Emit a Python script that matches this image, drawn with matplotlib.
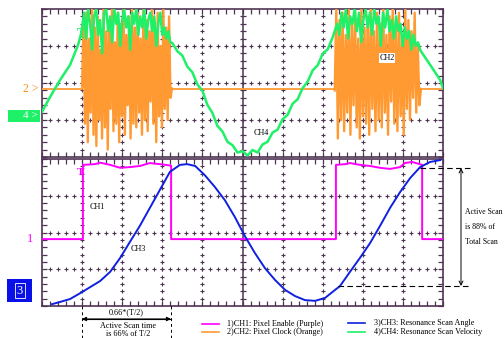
import numpy as np
import matplotlib
matplotlib.use('Agg')
import matplotlib.pyplot as plt
from matplotlib.lines import Line2D
from matplotlib.patches import Rectangle

# ---- data (screen divisions: x 0..10, y 0..4 per panel) ----
# CH4 resonance scan velocity (top panel, green)
ch4_left_x = [0.0, 0.2, 0.45, 0.7, 0.9, 1.0]
ch4_left_y = [1.22, 1.62, 2.08, 2.49, 3.03, 3.43]
ch4_burst1 = [3.5, 3.9, 3.2, 4.0, 3.6, 2.9, 3.8, 4.0, 3.3, 3.7, 2.8, 3.9, 4.0, 3.4, 3.8,
              3.1, 4.0, 3.6, 3.9, 3.0, 3.7, 4.0, 3.5, 3.8, 2.9, 3.9, 3.6, 4.0, 3.3, 3.8,
              3.5, 4.0, 3.2, 3.7, 3.9, 3.4, 3.8, 3.0, 3.6, 3.9, 3.3, 3.5, 3.2, 3.4, 3.1]
ch4_mid = [3.08, 2.86, 2.74, 2.44, 2.29, 1.96, 1.79, 1.41, 1.19, 0.84, 0.69, 0.41, 0.32,
           0.12, 0.16, 0.04, 0.19, 0.12, 0.34, 0.41, 0.66, 0.74, 1.02, 1.14, 1.44, 1.56,
           1.86, 2.04, 2.34, 2.48, 2.79, 2.91, 3.24]
ch4_burst2 = [3.6, 3.3, 3.9, 3.5, 4.0, 3.2, 3.8, 3.6, 4.0, 3.4, 3.9, 3.1, 3.7, 4.0, 3.5,
              3.9, 3.3, 4.0, 3.6, 3.8, 3.0, 3.9, 3.5, 4.0, 3.4, 3.7, 3.2, 3.8, 3.4, 3.6,
              3.0, 3.5, 3.2, 3.4, 2.9, 3.3, 3.0, 3.1, 2.9]
ch4_right_x = [9.43, 9.68, 9.93, 10.0]
ch4_right_y = [2.89, 2.49, 2.08, 1.86]

# CH2 pixel clock (top panel, orange)
ch2_base = 1.83
ch2_burst1 = [1.9, 3.6, 0.9, 3.9, 0.4, 3.2, 1.2, 4.0, 0.6, 3.5, 0.3, 3.8, 1.0, 2.9, 0.5, 4.0,
              0.8, 3.4, 0.2, 3.7, 1.3, 4.0, 0.7, 3.1, 0.9, 3.9, 0.4, 3.6, 1.1, 4.0, 0.6, 3.3,
              1.4, 3.8, 0.5, 4.0, 0.9, 3.5, 0.8, 3.9, 1.2, 3.2, 0.6, 4.0, 1.0, 3.7, 0.7, 3.4,
              1.5, 4.0, 0.9, 3.6, 0.4, 3.9, 1.1, 3.0, 0.8, 4.0, 1.3, 3.5, 1.0, 3.8, 1.6, 1.85]
ch2_burst2 = [1.8, 4.0, 0.5, 3.7, 1.0, 3.9, 0.7, 3.3, 1.2, 4.0, 0.6, 3.6, 1.4, 3.9, 0.8, 3.2,
              0.5, 4.0, 1.1, 3.5, 0.9, 3.8, 0.6, 4.0, 1.3, 3.4, 0.7, 3.9, 1.0, 3.6, 0.8, 4.0,
              1.2, 3.3, 0.6, 3.8, 1.5, 4.0, 0.9, 3.5, 0.7, 3.9, 1.1, 3.2, 0.6, 4.0, 1.3, 3.7,
              1.0, 3.4, 1.6, 3.9, 1.2, 3.0, 1.4, 1.84]

# CH1 pixel enable (bottom panel, magenta)
ch1_low = 1.82
ch1_p1_x = [1.02, 1.32, 1.45, 1.70, 1.95, 2.19, 2.44, 2.69, 2.94, 3.22]
ch1_p1_y = [3.84, 3.86, 3.90, 3.84, 3.76, 3.78, 3.81, 3.89, 3.86, 3.82]
ch1_p2_x = [7.33, 7.56, 7.68, 7.93, 8.18, 8.43, 8.68, 8.93, 9.05, 9.23, 9.48]
ch1_p2_y = [3.84, 3.86, 3.89, 3.84, 3.81, 3.76, 3.73, 3.78, 3.89, 3.92, 3.84]

# CH3 resonance scan angle (bottom panel, blue)
ch3_x = [0.25, 0.45, 0.70, 1.00, 1.45, 1.70, 1.95, 2.19, 2.44, 2.69, 2.94, 3.19, 3.44, 3.62,
         3.82, 4.06, 4.31, 4.56, 4.81, 5.06, 5.31, 5.56, 5.81, 6.06, 6.31, 6.56, 6.81, 7.06,
         7.31, 7.43, 7.68, 7.93, 8.18, 8.43, 8.68, 8.93, 9.18, 9.43, 9.68, 9.93]
ch3_y = [0.05, 0.11, 0.19, 0.38, 0.68, 0.93, 1.31, 1.74, 2.18, 2.67, 3.16, 3.65, 3.84, 3.86,
         3.81, 3.56, 3.24, 2.88, 2.42, 1.90, 1.44, 1.03, 0.71, 0.44, 0.27, 0.16, 0.14, 0.22,
         0.44, 0.54, 0.93, 1.31, 1.71, 2.18, 2.67, 3.10, 3.48, 3.78, 3.92, 3.97]

legend_left = ['1)CH1: Pixel Enable (Purple)', '2)CH2: Pixel Clock (Orange)']
legend_right = ['3)CH3: Resonance Scan Angle', '4)CH4: Resonance Scan Velocity']

GREEN = '#1ef068'
ORANGE = '#ff9a33'
MAGENTA = '#ff00ff'
BLUE = '#1020e0'
GRID = '#4f3352'
SERIF = ['Liberation Serif', 'DejaVu Serif']
FS = 5.9

W, H = 504, 338
fig = plt.figure(figsize=(W / 100, H / 100), dpi=100)
fig.patch.set_facecolor('white')


def fx(px):
    return px / W


def fy(py):
    return 1 - py / H


def graticule(ax):
    ax.set_xlim(0, 10)
    ax.set_ylim(0, 4)
    ax.set_xticks(np.arange(0, 10.01, 0.2))
    ax.set_yticks(np.arange(0, 4.01, 0.2))
    ax.tick_params(direction='in', length=3.5, width=0.9, color=GRID, top=True, right=True,
                   labelbottom=False, labelleft=False)
    for s in ax.spines.values():
        s.set_color(GRID)
        s.set_linewidth(1.2)
    ys = np.arange(0.2, 4.0, 0.2)
    xs = np.arange(0.2, 10.0, 0.2)
    for gx in range(1, 10):
        if gx == 5:
            continue
        ax.plot([gx] * len(ys), ys, ls='none', marker='+', ms=2.5, mew=0.8, color=GRID, zorder=1)
    for gy in range(1, 4):
        ax.plot(xs, [gy] * len(xs), ls='none', marker='+', ms=2.5, mew=0.8, color=GRID, zorder=1)
    ax.axvline(5, color=GRID, lw=1.1, zorder=1)
    ax.plot([5] * len(ys), ys, ls='none', marker='_', ms=5, mew=0.9, color=GRID, zorder=1)


ax_top = fig.add_axes([fx(42), fy(157), 401 / W, 148 / H])
ax_bot = fig.add_axes([fx(42), fy(306), 401 / W, 147 / H])
graticule(ax_top)
graticule(ax_bot)

# top panel traces
b1x = np.linspace(1.0, 3.24, len(ch2_burst1))
b2x = np.linspace(7.3, 9.45, len(ch2_burst2))
ax_top.plot([0, 1.0], [ch2_base, ch2_base], color=ORANGE, lw=1.3, zorder=3)
ax_top.plot(b1x, ch2_burst1, color=ORANGE, lw=1.7, zorder=3)
ax_top.plot([3.24, 7.3], [ch2_base, ch2_base], color=ORANGE, lw=1.3, zorder=3)
ax_top.plot(b2x, ch2_burst2, color=ORANGE, lw=1.7, zorder=3)
ax_top.plot([9.45, 10], [ch2_base, ch2_base], color=ORANGE, lw=1.3, zorder=3)

g_x = (ch4_left_x + list(np.linspace(1.0, 3.2, len(ch4_burst1)))
       + list(np.linspace(3.25, 7.25, len(ch4_mid)))
       + list(np.linspace(7.36, 9.43, len(ch4_burst2))) + ch4_right_x)
g_y = ch4_left_y + ch4_burst1 + ch4_mid + ch4_burst2 + ch4_right_y
ax_top.plot(g_x, g_y, color=GREEN, lw=1.8, zorder=4)

# bottom panel traces
m_x = [0, 1.02] + ch1_p1_x + [3.22, 7.33] + ch1_p2_x + [9.48, 10]
m_y = [ch1_low, ch1_low] + ch1_p1_y + [ch1_low, ch1_low] + ch1_p2_y + [ch1_low, ch1_low]
ax_bot.plot(m_x, m_y, color=MAGENTA, lw=1.4, zorder=3)
ax_bot.plot(ch3_x, ch3_y, color=BLUE, lw=1.4, zorder=4)

# channel markers on the left
fig.text(fx(31), fy(89), '2 >', color='#ff8c1a', fontsize=8.5, family=SERIF, ha='center',
         va='center')
fig.add_artist(Rectangle((fx(8), fy(122)), fx(32), 12 / H, transform=fig.transFigure,
                         facecolor=GREEN, edgecolor='none'))
fig.text(fx(30), fy(116), '4 >', color='white', fontsize=8, family=SERIF, ha='center', va='center')
fig.text(fx(30), fy(239), '1', color=MAGENTA, fontsize=9, family=SERIF, ha='center', va='center')
fig.add_artist(Rectangle((fx(7), fy(302)), fx(25), 23 / H, transform=fig.transFigure,
                         facecolor='#0a10e8', edgecolor='none'))
fig.text(fx(19.5), fy(290.5), '3', color='white', fontsize=9, family=SERIF, ha='center',
         va='center', bbox=dict(facecolor='none', edgecolor='white', lw=0.6,
                                boxstyle='square,pad=0.15'))
fig.text(fx(81), fy(34), 'T', color=GREEN, fontsize=10, family=SERIF, weight='bold',
         ha='center', va='center')
fig.text(fx(81), fy(173), 'T', color=MAGENTA, fontsize=8, family=SERIF, weight='bold',
         ha='center', va='center')

# channel labels
fig.text(fx(97), fy(207), 'CH1', fontsize=FS, family=SERIF, ha='center', va='center')
fig.text(fx(138), fy(249), 'CH3', fontsize=FS, family=SERIF, ha='center', va='center')
fig.text(fx(261), fy(133), 'CH4', fontsize=FS, family=SERIF, ha='center', va='center')
fig.text(fx(387), fy(58), 'CH2', fontsize=FS, family=SERIF, ha='center', va='center',
         bbox=dict(facecolor='white', edgecolor='none', pad=0.6))

# active scan time annotation
for px in (82, 171):
    fig.add_artist(Line2D([fx(px), fx(px)], [fy(306), fy(338)], color='black', lw=0.7,
                          ls=(0, (3, 3))))
fig.add_artist(Line2D([fx(82), fx(171)], [fy(319), fy(319)], color='black', lw=0.8))
ax_bot.annotate('', xy=(82, H - 319), xytext=(171, H - 319), xycoords='figure pixels',
                textcoords='figure pixels',
                arrowprops=dict(arrowstyle='<|-|>', color='black', lw=0.8, mutation_scale=6,
                                shrinkA=0, shrinkB=0))
fig.text(fx(126), fy(312), '0.66*(T/2)', fontsize=FS, family=SERIF, ha='center', va='center')
fig.text(fx(128), fy(326), 'Active Scan time', fontsize=FS, family=SERIF, ha='center', va='center')
fig.text(fx(128), fy(334), 'is 66% of T/2', fontsize=FS, family=SERIF, ha='center', va='center')

# total scan annotation
fig.add_artist(Line2D([fx(420), fx(470)], [fy(168), fy(168)], color='black', lw=0.8,
                      ls=(0, (5, 3))))
fig.add_artist(Line2D([fx(338), fx(470)], [fy(286), fy(286)], color='black', lw=0.8,
                      ls=(0, (5, 3))))
ax_bot.annotate('', xy=(461, H - 168), xytext=(461, H - 286), xycoords='figure pixels',
                textcoords='figure pixels',
                arrowprops=dict(arrowstyle='<->', color='black', lw=0.7, mutation_scale=7,
                                shrinkA=0, shrinkB=0))
for py, s in zip((212, 227, 242), ('Active Scan', 'is 88% of', 'Total Scan')):
    fig.text(fx(465), fy(py), s, fontsize=5.6, family=SERIF, ha='left', va='center')

# legend
for i, (txt, col) in enumerate(zip(legend_left, (MAGENTA, ORANGE))):
    py = 324 + 8 * i
    fig.add_artist(Line2D([fx(202), fx(219)], [fy(py), fy(py)], color=col, lw=1.2))
    fig.text(fx(227), fy(py), txt, fontsize=FS, family=SERIF, ha='left', va='center')
for i, (txt, col) in enumerate(zip(legend_right, (BLUE, GREEN))):
    py = 323 + 9 * i
    fig.add_artist(Line2D([fx(348), fx(365)], [fy(py), fy(py)], color=col, lw=1.2))
    fig.text(fx(374), fy(py), txt, fontsize=FS, family=SERIF, ha='left', va='center')

fig.savefig('out.png', dpi=100, facecolor='white')
